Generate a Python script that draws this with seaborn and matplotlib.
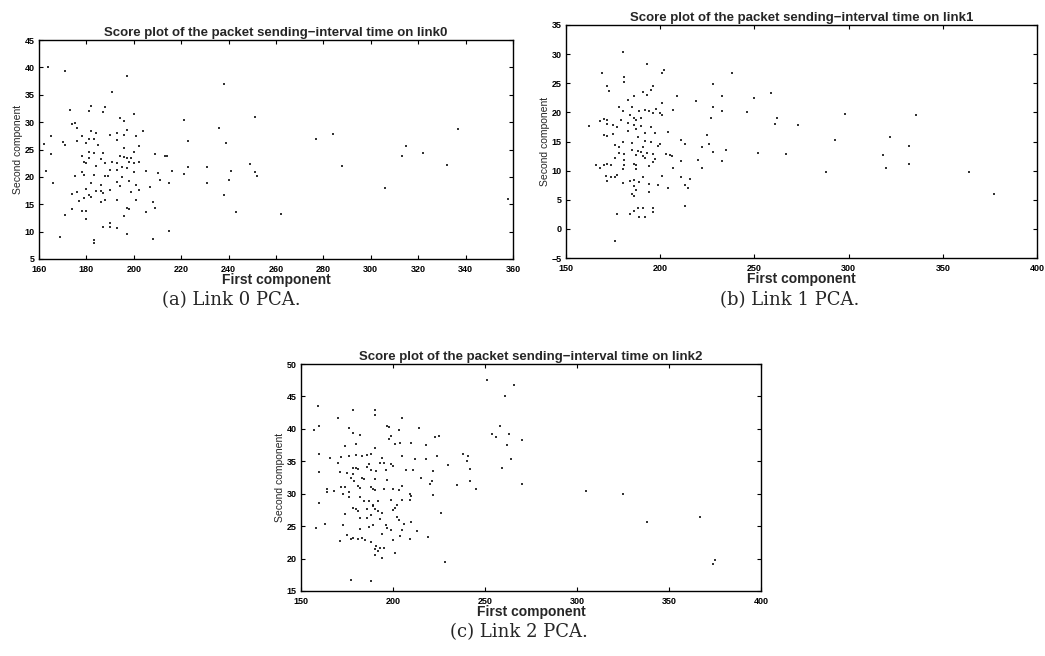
import matplotlib
matplotlib.use("Agg")
import matplotlib.pyplot as plt
import seaborn as sns
import pandas as pd

# ---------------- data ----------------
link0_x = [164, 171, 197, 238, 191, 182, 188, 173, 181, 187, 200, 251, 194, 196, 174, 175, 221, 236, 337,
           176, 182, 184, 197, 204, 193, 196, 190, 165, 201, 178, 181, 183, 277, 284, 223, 170, 193, 162,
           180, 176, 239, 185, 202, 171, 315, 196, 165, 181, 183, 187, 200, 322, 313, 178, 181, 194, 196,
           197, 199, 209, 213, 214, 186, 191, 193, 198, 200, 202, 179, 180, 188, 184, 249, 332, 288, 223,
           231, 195, 197, 190, 193, 216, 210, 205, 241, 251, 252, 163, 178, 179, 183, 188, 189, 200, 221,
           175, 195, 211, 240, 198, 166, 182, 215, 231, 193, 186, 201, 194, 207, 180, 184, 186, 187, 199,
           176, 190, 202, 306, 174, 181, 182, 179, 238, 177, 186, 188, 208, 193, 201, 197, 198, 209, 174,
           178, 180, 205, 243, 262, 196, 171, 180, 190, 187, 190, 193, 215, 197, 169, 183, 183, 208, 358]
link0_y = [40.0, 39.3, 38.5, 37.0, 35.5, 33.0, 32.8, 32.2, 32.1, 31.8, 31.5, 31.0, 30.7, 30.2, 29.7, 29.9,
           30.3, 29.0, 28.8, 28.9, 28.4, 28.1, 28.5, 28.3, 28.1, 27.7, 27.7, 27.4, 27.5, 27.4, 27.0, 27.0,
           27.0, 27.8, 26.6, 26.4, 26.8, 26.0, 26.2, 26.5, 26.2, 25.9, 25.6, 25.8, 25.6, 25.2, 24.1, 24.6,
           24.4, 24.4, 24.5, 24.4, 23.9, 23.8, 23.4, 23.8, 23.6, 23.5, 23.4, 24.1, 23.8, 23.9, 23.2, 22.8,
           22.6, 22.7, 22.6, 22.8, 22.7, 22.5, 22.5, 22.0, 22.4, 22.2, 22.0, 21.8, 21.8, 21.8, 21.6, 21.2,
           21.3, 21.0, 20.7, 21.1, 21.0, 20.8, 20.2, 21.0, 20.8, 20.3, 20.4, 20.1, 20.1, 20.8, 20.5, 20.2,
           19.9, 19.5, 19.5, 19.3, 18.9, 18.8, 18.9, 18.9, 19.0, 18.5, 18.5, 18.3, 18.1, 17.8, 17.5, 17.5,
           17.1, 17.3, 17.3, 17.6, 17.6, 18.0, 16.8, 16.6, 16.3, 16.1, 16.6, 15.6, 15.5, 15.7, 15.4, 15.7,
           15.7, 14.4, 14.2, 14.3, 14.2, 13.8, 13.8, 13.5, 13.5, 13.2, 12.9, 13.1, 12.3, 11.5, 10.8, 10.9,
           10.7, 10.2, 9.6, 9.1, 8.5, 8.0, 8.6, 16.0]

link1_x = [180, 193, 202, 201, 238, 169, 181, 181, 228, 172, 196, 195, 191, 193, 173, 259, 233, 250, 186,
           183, 219, 209, 201, 228, 185, 178, 198, 189, 192, 194, 196, 180, 207, 246, 233, 298, 200, 201,
           336, 227, 262, 184, 186, 187, 190, 170, 168, 172, 179, 162, 172, 175, 183, 186, 261, 273, 177,
           187, 190, 195, 183, 197, 204, 170, 172, 175, 192, 225, 188, 322, 293, 211, 180, 185, 192, 195,
           200, 226, 213, 176, 178, 199, 191, 332, 222, 235, 185, 188, 190, 178, 181, 193, 196, 228, 252,
           267, 203, 205, 206, 187, 191, 318, 176, 181, 192, 197, 211, 220, 233, 186, 187, 196, 166, 170,
           172, 174, 181, 194, 332, 168, 180, 187, 207, 222, 320, 288, 364, 171, 174, 177, 176, 191, 186,
           180, 201, 211, 172, 184, 189, 216, 213, 215, 194, 199, 204, 186, 187, 185, 186, 194, 377, 213,
           186, 188, 191, 196, 196, 184, 189, 192, 177, 176]
link1_y = [30.3, 28.3, 27.2, 26.8, 26.7, 26.7, 26.0, 25.3, 24.8, 24.5, 24.5, 23.8, 23.5, 23.0, 23.6, 23.3,
           22.8, 22.5, 22.8, 22.2, 21.9, 22.8, 21.6, 21.0, 21.0, 21.0, 20.6, 20.3, 20.4, 20.3, 19.9, 20.2,
           20.4, 20.0, 20.3, 19.7, 19.9, 19.6, 19.6, 19.1, 19.0, 19.5, 19.1, 18.7, 19.0, 18.9, 18.5, 18.7,
           18.7, 17.7, 18.0, 17.8, 18.1, 17.8, 18.0, 17.9, 17.5, 17.2, 17.6, 17.5, 16.8, 16.4, 16.6, 16.2,
           16.0, 16.3, 16.4, 16.2, 15.8, 15.7, 15.3, 15.3, 15.0, 14.7, 15.1, 14.9, 14.6, 14.5, 14.5, 14.4,
           14.1, 14.2, 14.1, 14.3, 14.0, 13.6, 13.5, 13.3, 13.2, 13.0, 12.9, 13.1, 12.9, 13.2, 13.0, 12.8,
           12.8, 12.6, 12.5, 12.7, 12.5, 12.6, 12.1, 11.8, 12.1, 12.0, 11.6, 11.8, 11.6, 11.2, 10.9, 11.4,
           11.0, 10.9, 11.2, 10.9, 11.0, 10.8, 11.1, 10.4, 10.3, 10.3, 10.4, 10.5, 10.4, 9.8, 9.7, 9.0, 8.9,
           9.2, 8.9, 8.9, 8.4, 7.9, 9.1, 8.9, 8.2, 8.3, 8.1, 8.5, 7.6, 7.1, 7.7, 7.6, 7.0, 7.3, 6.6, 6.0,
           5.6, 6.4, 6.0, 4.0, 3.1, 3.5, 3.5, 3.5, 2.9, 2.6, 2.1, 2.1, 2.5, -2.1]

link2_x = [251, 266, 261, 159, 178, 190, 190, 205, 170, 160, 157, 176, 197, 198, 214, 258, 203, 178, 254,
           256, 263, 199, 225, 223, 270, 198, 182, 210, 201, 204, 180, 218, 262, 174, 190, 160, 188, 180,
           183, 176, 172, 166, 186, 205, 224, 238, 241, 212, 218, 264, 194, 193, 195, 170, 171, 160, 187,
           186, 188, 178, 180, 181, 199, 200, 242, 240, 259, 230, 211, 207, 222, 196, 191, 178, 175, 183,
           184, 190, 197, 215, 221, 242, 177, 179, 172, 174, 173, 181, 182, 188, 189, 190, 195, 200, 203,
           205, 209, 210, 220, 235, 245, 270, 305, 325, 164, 164, 168, 176, 182, 184, 187, 189, 192, 199,
           202, 201, 205, 209, 222, 160, 176, 178, 180, 181, 186, 189, 190, 192, 194, 200, 226, 174, 182,
           186, 188, 193, 202, 203, 206, 210, 163, 158, 173, 189, 196, 197, 205, 199, 213, 182, 187, 219,
           178, 181, 183, 194, 200, 204, 209, 185, 188, 171, 177, 175, 191, 195, 193, 190, 192, 190, 201,
           194, 228, 375, 374, 338, 367, 177, 188]
link2_y = [47.6, 46.7, 45.0, 43.6, 42.9, 42.9, 42.1, 41.6, 41.6, 40.4, 39.8, 40.1, 40.4, 40.3, 40.2, 40.5,
           39.8, 39.3, 39.2, 38.7, 39.2, 38.9, 38.9, 38.8, 38.3, 38.4, 39.0, 37.8, 37.6, 37.8, 37.7, 37.5,
           37.5, 37.4, 37.0, 36.2, 36.2, 36.0, 35.8, 35.8, 35.6, 35.5, 35.9, 35.8, 35.8, 36.1, 35.8, 35.4,
           35.3, 35.3, 35.5, 34.7, 34.8, 34.8, 33.3, 33.4, 34.6, 34.1, 33.7, 34.0, 34.0, 33.8, 34.6, 34.3,
           33.8, 35.0, 34.0, 34.4, 33.6, 33.6, 33.5, 33.6, 33.5, 33.0, 33.2, 32.5, 32.2, 32.3, 32.1, 32.4,
           32.0, 31.9, 32.4, 32.0, 31.0, 31.0, 30.0, 31.2, 30.9, 31.0, 30.8, 30.5, 30.7, 30.8, 30.5, 31.2,
           30.0, 29.7, 31.5, 31.4, 30.8, 31.5, 30.4, 29.9, 30.8, 30.3, 30.4, 30.2, 29.5, 28.9, 28.8, 28.3,
           28.8, 29.0, 28.2, 27.8, 29.1, 29.1, 29.8, 28.5, 29.5, 27.8, 27.6, 27.4, 27.6, 28.1, 27.6, 27.4,
           27.0, 27.5, 27.0, 26.8, 26.3, 26.2, 26.7, 26.1, 26.4, 26.0, 25.3, 25.7, 25.4, 24.7, 25.1, 25.2,
           25.1, 24.7, 24.4, 24.4, 24.2, 24.6, 24.8, 23.4, 23.2, 23.0, 23.1, 23.8, 22.9, 23.5, 23.0, 22.8,
           22.6, 22.7, 23.0, 23.6, 21.9, 21.7, 21.7, 21.4, 21.2, 20.6, 20.8, 20.1, 19.4, 19.8, 19.2, 25.7,
           26.4, 16.7, 16.6]

titles = ["Score plot of the packet sending\u2212interval time on link0",
          "Score plot of the packet sending\u2212interval time on link1",
          "Score plot of the packet sending\u2212interval time on link2"]
captions = ["(a) Link 0 PCA.", "(b) Link 1 PCA.", "(c) Link 2 PCA."]
xlabel = "First component"
ylabel = "Second component"

xlims = [(160, 360), (150, 400), (150, 400)]
ylims = [(5, 45), (-5, 35), (15, 50)]
xticks = [list(range(160, 361, 20)), list(range(150, 401, 50)), list(range(150, 401, 50))]
yticks = [list(range(5, 46, 5)), list(range(-5, 36, 5)), list(range(15, 51, 5))]

# ---------------- figure ----------------
sns.set_theme(style="ticks")
plt.rcParams['font.family'] = ['Liberation Sans', 'DejaVu Sans']

W, H = 1045, 656
fig = plt.figure(figsize=(W / 100, H / 100), dpi=100)
fig.patch.set_facecolor("white")

# axes boxes in pixels: left, top, right, bottom
boxes = [(39, 40, 513, 259), (566, 25, 1037, 258), (301, 364, 761, 591)]
caption_pos = [(231, 300), (790, 300), (519, 632)]
datasets = [(link0_x, link0_y), (link1_x, link1_y), (link2_x, link2_y)]

for i, ((l, t, r, b), (xs, ys)) in enumerate(zip(boxes, datasets)):
    ax = fig.add_axes([l / W, 1 - b / H, (r - l) / W, (b - t) / H])
    df = pd.DataFrame({"x": xs, "y": ys})
    sns.scatterplot(data=df, x="x", y="y", ax=ax, s=3, color="black",
                    linewidth=0, marker="s", alpha=0.8)
    ax.set_xlim(*xlims[i])
    ax.set_ylim(*ylims[i])
    ax.set_xticks(xticks[i])
    ax.set_yticks(yticks[i])
    ax.tick_params(direction="in", length=3, width=0.8, labelsize=6.5,
                   top=True, right=True, colors="black")
    ax.tick_params(axis="x", pad=4)
    ax.tick_params(axis="y", pad=3)
    for lab in ax.get_xticklabels() + ax.get_yticklabels():
        lab.set_fontweight("bold")
    for sp in ax.spines.values():
        sp.set_visible(True)
        sp.set_linewidth(1.0)
        sp.set_color("black")
    ax.set_title(titles[i], fontsize=9.5, fontweight="bold", pad=3)
    ax.set_xlabel(xlabel, fontsize=10, fontweight="bold", labelpad=-0.5)
    ax.set_ylabel(ylabel, fontsize=7.5, labelpad=1)
    ax.set_facecolor("white")
    cx, cy = caption_pos[i]
    fig.text(cx / W, 1 - cy / H, captions[i], ha="center", va="center",
             fontsize=13, family=["DejaVu Serif"])

fig.savefig("out.png", dpi=100, facecolor="white")
